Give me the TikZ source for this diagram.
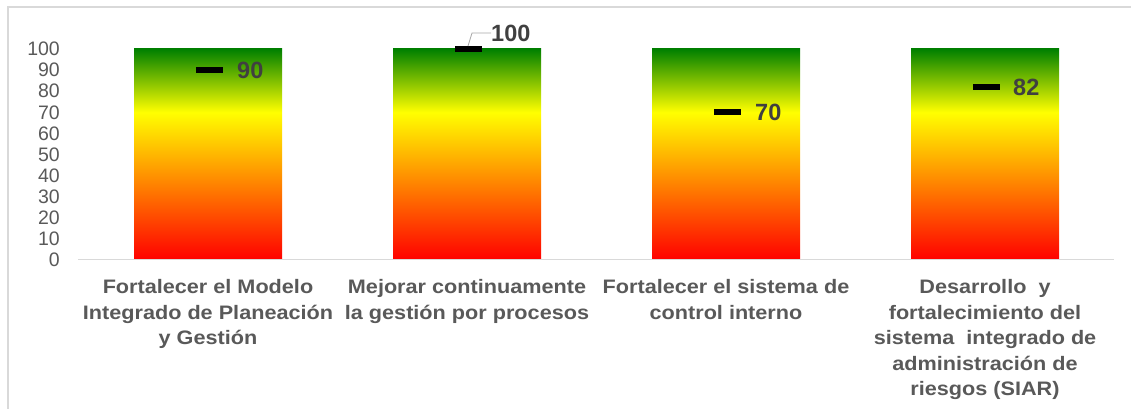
\documentclass[tikz,border=0pt]{standalone}
\usepackage{fontspec}
\setmainfont{Liberation Sans}
\newfontfamily\catfont[FakeStretch=1.11]{Liberation Sans}
\definecolor{txtgray}{RGB}{89,89,89}
\definecolor{lblgray}{RGB}{64,64,64}
\definecolor{gridgray}{RGB}{217,217,217}
\definecolor{leadgray}{RGB}{166,166,166}
\definecolor{barred}{RGB}{255,0,0}
\definecolor{baryellow}{RGB}{255,255,0}
\definecolor{bargreen}{RGB}{0,128,0}
\pgfdeclareverticalshading{barshade}{100bp}{color(0bp)=(barred); color(25bp)=(barred); color(60bp)=(baryellow); color(75bp)=(bargreen); color(100bp)=(bargreen)}
\begin{document}
\begin{tikzpicture}[x=1pt,y=1pt,
  bar/.style={minimum width=148pt,minimum height=211pt,inner sep=0pt,outer sep=0pt,shading=barshade,anchor=south},
  marker/.style={fill=black,minimum width=27pt,minimum height=6pt,inner sep=0pt,outer sep=0pt},
  tick/.style={anchor=east,inner sep=0pt,text=txtgray,font=\fontsize{19.5}{22}\selectfont},
  val/.style={anchor=west,inner sep=0pt,text=lblgray,font=\fontsize{23.5}{26}\selectfont\bfseries},
  cat/.style={anchor=north,inner sep=0pt,align=center,text=txtgray,font=\catfont\fontsize{19.5}{25.5}\selectfont\bfseries},
  frame/.style={draw=gridgray,line width=1.5pt},
  axisline/.style={draw=gridgray,line width=1pt},
  leader/.style={draw=leadgray,line width=0.8pt}]
\useasboundingbox (0,0) rectangle (1131,409);
% frame
\coordinate (fb) at (8,0);
\coordinate (ftl) at (8,402);
\coordinate (ftr) at (1131,402);
\draw[frame] (fb) -- (ftl) -- (ftr);
% ticks
\foreach \v in {0,10,...,100}{
  \node[tick] (t\v) at (60,{149+\v*2.11}) {\v};
}
% bars
\node[bar] (b1) at (208,149) {};
\node[bar] (b2) at (467,149) {};
\node[bar] (b3) at (726,149) {};
\node[bar] (b4) at (985,149) {};
% axis
\coordinate (al) at (78,149);
\coordinate (ar) at (1114,149);
\draw[axisline] (al) -- (ar);
% markers
\node[marker] (m1) at (209.5,{149+90*2.11}) {};
\node[marker] (m2) at (468,{149+100*2.11}) {};
\node[marker] (m3) at (727,{149+70*2.11}) {};
\node[marker] (m4) at (986.5,{149+82*2.11}) {};
% value labels
\node[val] (v1) at (237,{149+90*2.11}) {90};
\node[val] (v2) at (491,376) {100};
\node[val] (v3) at (755,{149+70*2.11}) {70};
\node[val] (v4) at (1013,{149+82*2.11}) {82};
\coordinate (lk) at (472,376);
\draw[leader] (m2.north) -- (lk) -- (v2.west);
% categories
\node[cat] (c1) at (208,129.5) {Fortalecer el Modelo\\Integrado de Planeación\\y Gestión};
\node[cat] (c2) at (467,129.5) {Mejorar continuamente\\la gestión por procesos};
\node[cat] (c3) at (726,129.5) {Fortalecer el sistema de\\control interno};
\node[cat] (c4) at (985,129.5) {Desarrollo~ y\\fortalecimiento del\\sistema~ integrado de\\administración de\\riesgos (SIAR)};
\end{tikzpicture}
\end{document}
